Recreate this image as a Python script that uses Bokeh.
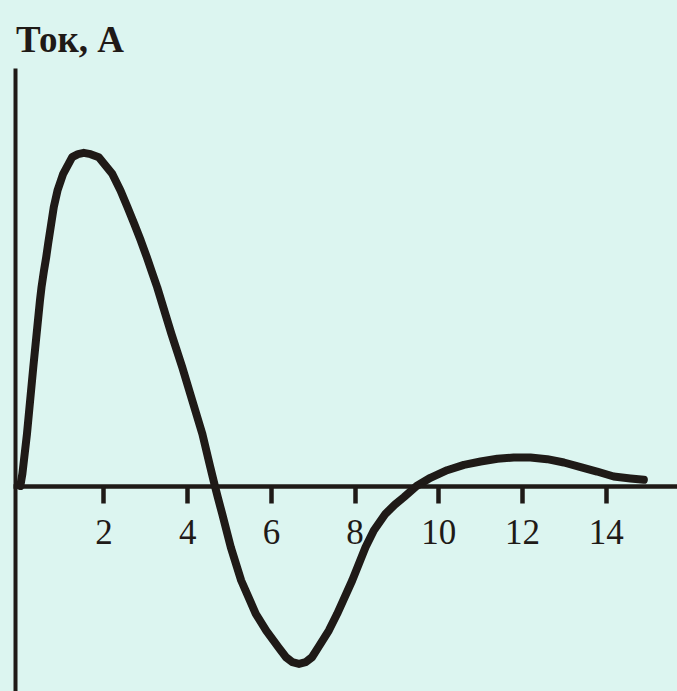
from bokeh.plotting import figure
from bokeh.models import FixedTicker, Label, Range1d
from bokeh.embed import file_html
from bokeh.resources import INLINE

# Time (x) and current (y) values
time_vals = [0.0, 0.05, 0.16, 0.31, 0.47, 0.507, 0.562, 0.619, 0.667, 0.738, 0.800, 0.889,
             1.025, 1.240, 1.38, 1.517, 1.68, 1.876, 2.196, 2.394, 2.562, 2.722, 2.879, 3.023,
             3.159, 3.271, 3.61, 3.87, 4.11, 4.35, 4.54, 4.65, 4.719, 4.824, 5.030, 5.278,
             5.627, 5.876, 6.17, 6.35, 6.50, 6.66, 6.82, 6.97, 7.12, 7.372, 7.572, 7.931,
             8.249, 8.447, 8.726, 8.95, 9.164, 9.47, 9.80, 10.20, 10.60, 11.00, 11.40, 11.79,
             12.19, 12.59, 12.99, 13.39, 13.78, 14.18, 14.58, 14.90]
current_vals = [0.0, 0.37, 1.57, 3.57, 5.58, 5.979, 6.45, 6.881, 7.30, 7.88, 8.385, 8.887,
                9.39, 9.89, 9.98, 10.02, 9.98, 9.89, 9.39, 8.887, 8.385, 7.886, 7.383, 6.881,
                6.382, 5.979, 4.58, 3.57, 2.57, 1.57, 0.57, 0.0, -0.337, -0.836, -1.841, -2.842,
                -3.844, -4.346, -4.85, -5.15, -5.30, -5.35, -5.30, -5.15, -4.85, -4.346, -3.844,
                -2.842, -1.841, -1.338, -0.836, -0.56, -0.337, 0.0, 0.247, 0.475, 0.637, 0.737,
                0.818, 0.857, 0.857, 0.807, 0.707, 0.566, 0.436, 0.286, 0.226, 0.186]
tick_values = [2, 4, 6, 8, 10, 12, 14]
title_text = "Ток, А"

BG = "#dcf5f0"
INK = "#1f1a17"

p = figure(width=677, height=691, output_backend="svg", toolbar_location=None,
           x_range=Range1d(-0.473, 15.704), y_range=Range1d(-6.180, 14.602),
           min_border=0, min_border_left=0, min_border_right=0,
           min_border_top=0, min_border_bottom=0)
p.background_fill_color = BG
p.border_fill_color = BG
p.outline_line_color = None
p.xgrid.visible = False
p.ygrid.visible = False

# x axis through zero
xa = p.xaxis[0]
xa.fixed_location = 0
xa.bounds = (-0.16, 15.8)
xa.ticker = FixedTicker(ticks=tick_values)
xa.axis_line_width = 4.5
xa.axis_line_color = INK
xa.major_tick_line_width = 4.5
xa.major_tick_line_color = INK
xa.major_tick_in = 0
xa.major_tick_out = 17
xa.minor_tick_line_color = None
xa.major_label_text_font = "Liberation Serif"
xa.major_label_text_font_size = "35px"
xa.major_label_text_color = INK
xa.major_label_standoff = 17

# y axis line only
ya = p.yaxis[0]
ya.fixed_location = -0.108
ya.bounds = (-6.5, 12.556)
ya.axis_line_width = 4
ya.axis_line_color = INK
ya.major_tick_line_color = None
ya.minor_tick_line_color = None
ya.major_label_text_color = None
ya.major_label_text_font_size = "0px"
ya.ticker = FixedTicker(ticks=[])

p.line(time_vals, current_vals, line_width=8, line_color=INK,
       line_cap="round", line_join="round")

p.add_layout(Label(x=-0.103, y=13.42, text=title_text, text_font="Liberation Serif",
                   text_font_style="bold", text_font_size="37px", text_color=INK,
                   text_baseline="alphabetic", text_align="left"))

html = file_html(p, INLINE)
html = html.replace("<head>", "<head><style>html,body{background:%s;}</style>" % BG, 1)
open("out.html", "w").write(html)
